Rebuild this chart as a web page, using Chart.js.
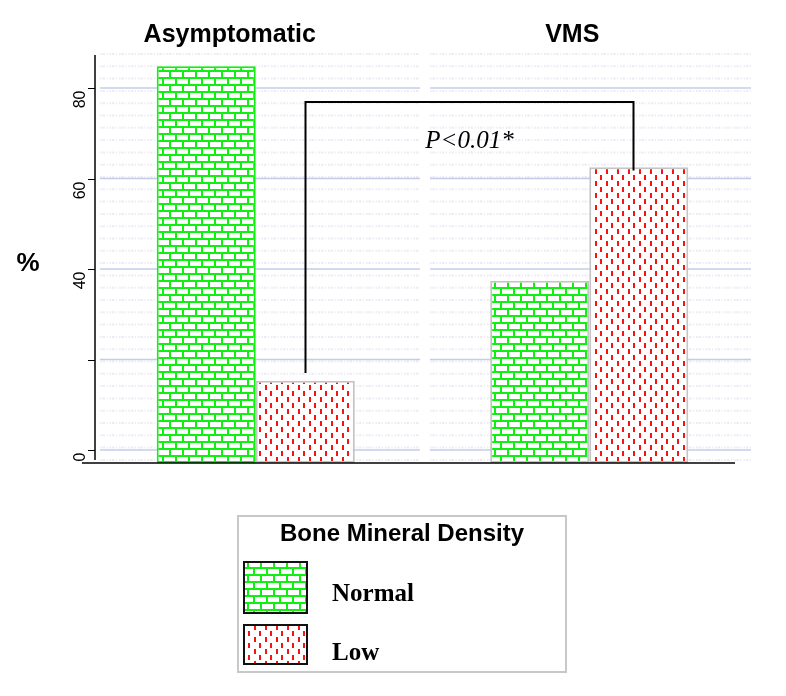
<!DOCTYPE html>
<html>
<head>
<meta charset="utf-8">
<script src="https://cdn.jsdelivr.net/npm/chart.js@4/dist/chart.umd.min.js"></script>
<style>
  body { margin: 0; background: #fff; }
</style>
</head>
<body>
<canvas id="chart" width="786" height="696"></canvas>
<script>
const categories = ['Asymptomatic', 'VMS']
const seriesNames = ['Normal', 'Low']
const normalPct = [84.8, 37.4]
const lowPct = [15.3, 62.5]
const yTicks = [0, 20, 40, 60, 80]
const yTickLabels = ['0', '', '40', '60', '80']
const yTitle = '%'
const legendTitle = 'Bone Mineral Density'
const pLabel = 'P<0.01*'
// bracket ends in % units: left foot, top bar, right foot
const bracketLevels = [17, 76.9, 61.8]

const yMin = -2.87
const yMax = 87.3

function brickPattern() {
  const c = document.createElement('canvas')
  c.width = 13; c.height = 14
  const g = c.getContext('2d')
  g.fillStyle = '#fff'; g.fillRect(0, 0, 13, 14)
  g.fillStyle = '#11ee11'
  g.fillRect(0, 0, 13, 2); g.fillRect(0, 7, 13, 2)
  g.fillRect(0, 0, 2, 7); g.fillRect(6, 7, 2, 7)
  return g.createPattern(c, 'repeat')
}

function dashPattern() {
  const c = document.createElement('canvas')
  c.width = 11; c.height = 12
  const g = c.getContext('2d')
  g.fillStyle = '#fff'; g.fillRect(0, 0, 11, 12)
  g.fillStyle = '#ff1010'
  g.fillRect(1, 1, 2, 5); g.fillRect(6, 7, 2, 5)
  return g.createPattern(c, 'repeat')
}

const brick = brickPattern()
const dashes = dashPattern()

const backdrop = {
  id: 'backdrop',
  beforeDatasetsDraw(chart) {
    const { ctx } = chart
    const y = chart.scales.y
    const panels = [[100, 420], [430, 751]]
    ctx.save()
    ctx.strokeStyle = 'rgba(165,170,205,0.22)'
    ctx.lineWidth = 2
    ctx.setLineDash([1.5, 1, 2.5, 1.5, 1, 2])
    for (let ry = 54; ry < 460; ry += 12.3) {
      panels.forEach(([a, b]) => {
        ctx.beginPath(); ctx.moveTo(a, ry); ctx.lineTo(b, ry); ctx.stroke()
      })
    }
    ctx.setLineDash([])
    ctx.strokeStyle = 'rgba(190,198,230,0.9)'
    ctx.lineWidth = 1.5
    yTicks.forEach(t => {
      const py = y.getPixelForValue(t)
      panels.forEach(([a, b]) => {
        ctx.beginPath(); ctx.moveTo(a, py); ctx.lineTo(b, py); ctx.stroke()
      })
    })
    ctx.restore()
  }
}

const overlay = {
  id: 'overlay',
  afterDatasetsDraw(chart) {
    const { ctx, chartArea } = chart
    const x = chart.scales.x
    const y = chart.scales.y
    ctx.save()
    ctx.fillStyle = '#000'
    ctx.strokeStyle = '#000'

    // axes
    const axisX = chartArea.left + 6
    ctx.lineWidth = 1.5
    ctx.beginPath()
    ctx.moveTo(axisX, chartArea.top); ctx.lineTo(axisX, chartArea.bottom - 3)
    ctx.stroke()
    ctx.beginPath()
    ctx.moveTo(82, chartArea.bottom); ctx.lineTo(735, chartArea.bottom)
    ctx.stroke()
    ctx.lineWidth = 1
    ctx.font = '16px Arial, "Liberation Sans", sans-serif'
    yTicks.forEach((t, i) => {
      const py = Math.round(y.getPixelForValue(t)) + 0.5
      ctx.beginPath(); ctx.moveTo(axisX - 7, py); ctx.lineTo(axisX, py); ctx.stroke()
      ctx.save()
      ctx.translate(axisX - 10, py + 2)
      ctx.rotate(-Math.PI / 2)
      ctx.textAlign = 'right'
      ctx.textBaseline = 'alphabetic'
      ctx.fillText(yTickLabels[i], 0, 0)
      ctx.restore()
    })

    ctx.font = 'bold 26px Arial, "Liberation Sans", sans-serif'
    ctx.textAlign = 'center'
    ctx.textBaseline = 'middle'
    ctx.fillText(yTitle, 28, 264)

    // panel titles
    const titleShift = [-26, -17]
    ctx.font = 'bold 25px Arial, "Liberation Sans", sans-serif'
    ctx.textBaseline = 'alphabetic'
    categories.forEach((c, i) => {
      ctx.fillText(c, x.getPixelForValue(i) + titleShift[i], 42)
    })

    // significance bracket
    const low = chart.getDatasetMeta(1).data
    const bx1 = Math.round(low[0].x) + 0.5
    const bx2 = Math.round(low[1].x) - 6 + 0.5
    const [lf, top, rf] = bracketLevels.map(v => y.getPixelForValue(v))
    ctx.lineWidth = 2
    ctx.beginPath()
    ctx.moveTo(bx1, lf); ctx.lineTo(bx1, top); ctx.lineTo(bx2, top); ctx.lineTo(bx2, rf)
    ctx.stroke()
    ctx.font = 'italic 25px "Times New Roman", "Liberation Serif", serif'
    ctx.fillText(pLabel, (bx1 + bx2) / 2, y.getPixelForValue(66.7))

    // legend
    ctx.strokeStyle = '#c8c8c8'
    ctx.lineWidth = 2
    ctx.strokeRect(238, 516, 328, 156)
    ctx.font = 'bold 24px Arial, "Liberation Sans", sans-serif'
    ctx.fillText(legendTitle, 402, 541)
    const boxes = [[562, 51, 601], [625, 39, 660]]
    chart.data.datasets.forEach((ds, i) => {
      const [by, bh, ty] = boxes[i]
      ctx.fillStyle = ds.backgroundColor
      ctx.fillRect(244, by, 63, bh)
      ctx.strokeStyle = '#111'
      ctx.lineWidth = 2
      ctx.strokeRect(244, by, 63, bh)
      ctx.fillStyle = '#000'
      ctx.textAlign = 'left'
      ctx.font = 'bold 25px "Times New Roman", "Liberation Serif", serif'
      ctx.fillText(ds.label, 332, ty)
    })
    ctx.restore()
  }
}

new Chart(document.getElementById('chart'), {
  type: 'bar',
  data: {
    labels: categories,
    datasets: [
      {
        label: seriesNames[0],
        data: normalPct,
        backgroundColor: brick,
        borderColor: ['#11ee11', '#c4c4c4'],
        borderWidth: 2,
        borderSkipped: false,
        base: yMin
      },
      {
        label: seriesNames[1],
        data: lowPct,
        backgroundColor: dashes,
        borderColor: '#c4c4c4',
        borderWidth: 2,
        borderSkipped: false,
        base: yMin
      }
    ]
  },
  options: {
    responsive: false,
    animation: false,
    layout: { padding: { left: 89, right: 30, top: 55, bottom: 233 } },
    datasets: { bar: { categoryPercentage: 0.594, barPercentage: 1 } },
    plugins: { legend: { display: false }, tooltip: { enabled: false } },
    scales: {
      x: { display: false, offset: true },
      y: { display: false, min: yMin, max: yMax }
    }
  },
  plugins: [backdrop, overlay]
})
</script>
</body>
</html>
